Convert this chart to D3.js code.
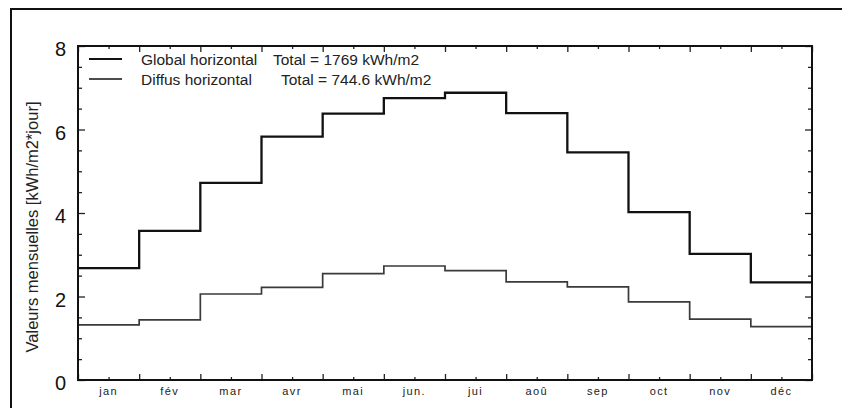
<!DOCTYPE html>
<html><head><meta charset="utf-8">
<script src="https://cdn.jsdelivr.net/npm/d3@7"></script>
<style>
html,body{margin:0;padding:0;background:#fff;}
svg{display:block;font-family:"Liberation Sans",Arial,sans-serif;}
</style></head>
<body><svg id="c" width="842" height="408"></svg>
<script>
const months = ["jan","fév","mar","avr","mai","jun.","jui","aoû","sep","oct","nov","déc"];
const globalVals = [2.68,3.57,4.72,5.83,6.38,6.75,6.88,6.39,5.45,4.02,3.02,2.34];
const diffusVals = [1.32,1.44,2.06,2.22,2.55,2.73,2.62,2.35,2.23,1.87,1.46,1.28];
const seriesNames = ["Global horizontal","Diffus horizontal"];
const seriesTotals = ["Total = 1769 kWh/m2","Total = 744.6 kWh/m2"];
const yTicks = [0,2,4,6,8];
const yLabel = "Valeurs mensuelles [kWh/m2*jour]";

const svg = d3.select("#c");
const L = 78, R = 812, T = 46, B = 380;
const x = d3.scaleLinear().domain([0,12]).range([L,R]);
const y = d3.scaleLinear().domain([0,8]).range([B,T]);

// outer frame (top & left)
svg.append("path").attr("d",`M11,408 V9 H842`).attr("fill","none").attr("stroke","#111").attr("stroke-width",2);

// step lines
const toPts = vals => vals.map((v,i)=>[i,v]).concat([[vals.length, vals[vals.length-1]]]);
const line = d3.line().x(d=>x(d[0])).y(d=>y(d[1])).curve(d3.curveStepAfter);
svg.append("path").attr("d",line(toPts(diffusVals))).attr("fill","none").attr("stroke","#3a3a3a").attr("stroke-width",1.7);
svg.append("path").attr("d",line(toPts(globalVals))).attr("fill","none").attr("stroke","#111").attr("stroke-width",2.3);

// axes with inward ticks
const halfTicks = d3.range(0,12.01,0.5);
const yHalf = d3.range(0,8.01,0.5);
function styleAx(g){ g.select(".domain").remove(); g.selectAll("line").attr("stroke","#222").attr("stroke-width",1.3); }
svg.append("g").attr("transform",`translate(0,${B})`).call(d3.axisBottom(x).tickValues(halfTicks.filter(v=>v%1===0)).tickSize(-6).tickFormat("")).call(styleAx);
svg.append("g").attr("transform",`translate(0,${B})`).call(d3.axisBottom(x).tickValues(halfTicks.filter(v=>v%1!==0)).tickSize(-3).tickFormat("")).call(styleAx);
svg.append("g").attr("transform",`translate(0,${T})`).call(d3.axisTop(x).tickValues(halfTicks.filter(v=>v%1===0)).tickSize(-6).tickFormat("")).call(styleAx);
svg.append("g").attr("transform",`translate(0,${T})`).call(d3.axisTop(x).tickValues(halfTicks.filter(v=>v%1!==0)).tickSize(-3).tickFormat("")).call(styleAx);
svg.append("g").attr("transform",`translate(${L},0)`).call(d3.axisLeft(y).tickValues(yHalf.filter(v=>v%2===0)).tickSize(-7).tickFormat("")).call(styleAx);
svg.append("g").attr("transform",`translate(${L},0)`).call(d3.axisLeft(y).tickValues(yHalf.filter(v=>v%2!==0)).tickSize(-4).tickFormat("")).call(styleAx);
svg.append("g").attr("transform",`translate(${R},0)`).call(d3.axisRight(y).tickValues(yHalf.filter(v=>v%2===0)).tickSize(-7).tickFormat("")).call(styleAx);
svg.append("g").attr("transform",`translate(${R},0)`).call(d3.axisRight(y).tickValues(yHalf.filter(v=>v%2!==0)).tickSize(-4).tickFormat("")).call(styleAx);

// plot frame
svg.append("rect").attr("x",L).attr("y",T).attr("width",R-L).attr("height",B-T).attr("fill","none").attr("stroke","#111").attr("stroke-width",2);

// y tick labels
svg.append("g").selectAll("text").data(yTicks).join("text")
  .attr("x",L-12).attr("y",d=>y(d)+3).attr("dy","0.35em").attr("text-anchor","end")
  .attr("font-size",20).attr("fill","#111").text(d=>d);

// x labels
svg.append("g").selectAll("text").data(months).join("text")
  .attr("x",(d,i)=>x(i+0.5)).attr("y",B+15).attr("text-anchor","middle")
  .attr("font-size",11).attr("letter-spacing","1.4px").attr("fill","#222").text(d=>d);

// y title
svg.append("text").attr("transform",`translate(38,${(T+B)/2+14}) rotate(-90)`)
  .attr("text-anchor","middle").attr("font-size",16.5).attr("fill","#222").text(yLabel);

// legend
const legY = [59,79], legW = [2.2,1.3], totX = [273,281];
seriesNames.forEach((n,i)=>{
  svg.append("line").attr("x1",89).attr("x2",122).attr("y1",legY[i]).attr("y2",legY[i])
    .attr("stroke","#111").attr("stroke-width",legW[i]);
  svg.append("text").attr("x",141).attr("y",legY[i]+5.5).attr("font-size",15.5).attr("fill","#222").text(n);
  svg.append("text").attr("x",totX[i]).attr("y",legY[i]+5.5).attr("font-size",15.5).attr("fill","#222").text(seriesTotals[i]);
});
</script></body></html>
